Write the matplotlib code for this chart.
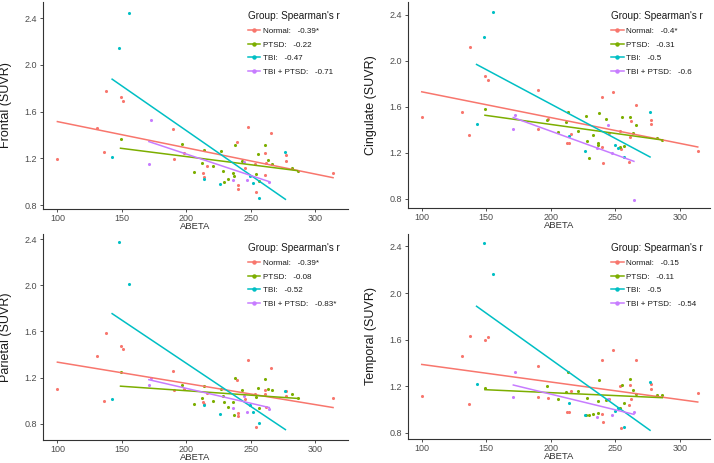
import matplotlib
matplotlib.use('Agg')
import matplotlib.pyplot as plt
from matplotlib.lines import Line2D

plt.rcParams['font.family'] = ['Liberation Sans', 'DejaVu Sans']

groups = ['Normal', 'PTSD', 'TBI', 'TBI + PTSD']
colors = ['#F8766D', '#7CAE00', '#00BFC4', '#C77CFF']
regions = ['Frontal', 'Cingulate', 'Parietal', 'Temporal']

# ABETA per subject, by group
normal_x = [100, 131, 136.5, 137.5, 149, 151, 190, 190.5, 198, 213, 214, 216, 239.5, 240, 240.5,
            245.5, 248, 253.5, 254.5, 261, 261.5, 262, 266, 277.5, 277.5, 314]
ptsd_x = [149, 197, 206, 212, 213.5, 221, 227, 228.5, 229.5, 232.5, 236.5, 237, 237.5, 243, 254,
          255.5, 256.5, 261.5, 263.5, 266.5, 282.5, 286.5]
tbi_x = [142.5, 148, 155.5, 214, 226.5, 249.5, 252, 256.5, 277]
combo_x = [171, 172.5, 236, 244.5, 247.5, 264.5]

# SUVR per region
normal_y = {
    'Frontal': [1.19, 1.455, 1.257, 1.78, 1.726, 1.686, 1.452, 1.198, 1.246, 1.073, 1.043, 1.13, 1.339,
                0.972, 0.938, 1.113, 1.466, 1.155, 0.91, 1.06, 1.248, 1.158, 1.42, 1.232, 1.181, 1.071],
    'Cingulate': [1.516, 1.559, 1.353, 2.12, 1.865, 1.836, 1.748, 1.408, 1.495, 1.286, 1.283, 1.361, 1.684,
                  1.254, 1.108, 1.373, 1.728, 1.388, 1.23, 1.117, 1.338, 1.475, 1.612, 1.487, 1.452, 1.216],
    'Parietal': [1.099, 1.384, 0.997, 1.584, 1.478, 1.449, 1.258, 1.09, 1.1, 0.985, 0.973, 1.07, 1.179,
                 0.897, 0.87, 1.014, 1.349, 1.058, 0.77, 1.091, 1.06, 0.95, 1.287, 1.086, 1.04, 1.023],
    'Temporal': [1.117, 1.457, 1.043, 1.629, 1.6, 1.62, 1.37, 1.11, 1.095, 0.975, 0.978, 1.158, 1.42,
                 0.963, 0.887, 1.086, 1.506, 1.197, 0.843, 1.04, 1.209, 1.09, 1.42, 1.217, 1.172, 1.138],
}
ptsd_y = {
    'Frontal': [1.362, 1.319, 1.082, 1.158, 1.27, 1.137, 1.263, 1.092, 0.994, 1.02, 1.071, 1.05, 1.316,
                1.175, 1.068, 1.237, 1.005, 1.315, 1.187, 1.153, 1.117, 1.092],
    'Cingulate': [1.583, 1.487, 1.382, 1.464, 1.553, 1.388, 1.519, 1.306, 1.158, 1.356, 1.282, 1.271, 1.545,
                  1.492, 1.25, 1.51, 1.263, 1.51, 1.37, 1.442, 1.33, 1.312],
    'Parietal': [1.249, 1.137, 0.97, 1.026, 1.129, 0.994, 1.10, 1.043, 0.985, 0.946, 0.985, 0.876, 1.193,
                 1.093, 1.029, 1.111, 0.935, 1.184, 1.105, 1.093, 1.058, 1.023],
    'Temporal': [1.18, 1.198, 1.09, 1.146, 1.32, 1.157, 0.95, 1.097, 0.952, 0.96, 1.074, 0.966, 1.252,
                 1.078, 1.01, 1.211, 1.058, 1.258, 1.169, 1.128, 1.121, 1.127],
}
tbi_y = {
    'Frontal': [1.215, 2.14, 2.44, 1.026, 0.978, 1.05, 0.99, 0.858, 1.256],
    'Cingulate': [1.449, 2.208, 2.426, 1.344, 1.219, 1.271, 1.238, 1.16, 1.559],
    'Parietal': [1.017, 2.37, 2.01, 0.961, 0.888, 0.96, 0.906, 0.803, 1.087],
    'Temporal': [1.22, 2.43, 2.163, 1.055, 0.955, 0.983, 1.01, 0.849, 1.235],
}
combo_y = {
    'Frontal': [1.153, 1.53, 1.012, 1.167, 1.012, 1.0],
    'Cingulate': [1.408, 1.533, 1.245, 1.44, 1.2, 0.786],
    'Parietal': [1.135, 1.193, 0.941, 1.044, 0.906, 0.925],
    'Temporal': [1.105, 1.318, 0.93, 1.09, 0.955, 0.978],
}

# fitted line value at each group's lowest and highest ABETA
fit_ends = {
    'Frontal': [(1.514, 1.034), (1.286, 1.094), (1.877, 0.849), (1.343, 1.0)],
    'Cingulate': [(1.731, 1.251), (1.527, 1.312), (1.969, 1.164), (1.507, 1.126)],
    'Parietal': [(1.334, 0.941), (1.126, 1.02), (1.754, 0.75), (1.182, 0.941)],
    'Temporal': [(1.386, 1.063), (1.169, 1.1), (1.886, 0.82), (1.209, 0.957)],
}

spearman_r = {
    'Frontal': ['-0.39*', '-0.22', '-0.47', '-0.71'],
    'Cingulate': ['-0.4*', '-0.31', '-0.5', '-0.6'],
    'Parietal': ['-0.39*', '-0.08', '-0.52', '-0.83*'],
    'Temporal': ['-0.15', '-0.11', '-0.5', '-0.54'],
}

xs = [normal_x, ptsd_x, tbi_x, combo_x]
ys = [normal_y, ptsd_y, tbi_y, combo_y]

W, H = 714, 463
# pixel boxes: left, right, top, bottom
boxes = [(42.7, 348, 1.7, 209), (407.7, 710, 1.7, 208),
         (42.7, 348, 233.7, 440), (407.7, 710, 233.7, 439)]
xlims = [(88.6, 325.6), (89.1, 323.5), (88.6, 325.6), (89.1, 323.5)]
ylims = [(0.766, 2.54), (0.72, 2.515), (0.66, 2.446), (0.745, 2.51)]

fig = plt.figure(figsize=(W / 100, H / 100), dpi=100)

for i, reg in enumerate(regions):
    l, r, t, b = boxes[i]
    ax = fig.add_axes([l / W, 1 - b / H, (r - l) / W, (b - t) / H])

    for gx, gy, c in zip(xs, ys, colors):
        ax.scatter(gx, gy[reg], s=5, color=c, linewidths=0, zorder=2)
    for gx, ends, c in zip(xs, fit_ends[reg], colors):
        ax.plot([min(gx), max(gx)], ends, color=c, lw=1.1, zorder=3)

    ax.set_xlim(*xlims[i])
    ax.set_ylim(*ylims[i])
    ax.set_xticks([100, 150, 200, 250, 300])
    ax.set_yticks([0.8, 1.2, 1.6, 2.0, 2.4])
    ax.set_yticklabels(['0.8', '1.2', '1.6', '2.0', '2.4'])
    for s in ['top', 'right']:
        ax.spines[s].set_visible(False)
    for s in ['left', 'bottom']:
        ax.spines[s].set_color('#333333')
        ax.spines[s].set_linewidth(0.8)
    ax.tick_params(length=2, width=0.6, color='#333333', labelsize=6.5,
                   labelcolor='#4d4d4d', pad=2)
    ax.tick_params(axis='x', pad=1.5)
    ax.set_xlabel('ABETA', fontsize=6.8, color='#333333', labelpad=-0.5)
    ax.set_ylabel(reg + ' (SUVR)', fontsize=9, color='#1a1a1a', labelpad=9)

    handles = [Line2D([0], [0], color=c, lw=1.1, marker='o', markersize=2.2) for c in colors]
    labels = [g + ':   ' + v for g, v in zip(groups, spearman_r[reg])]
    leg = ax.legend(handles, labels, title="Group: Spearman's r", loc='upper left',
                    bbox_to_anchor=(0.65, 0.985), frameon=False, fontsize=5.8,
                    title_fontsize=7.2, handlelength=1.6, handletextpad=0.35,
                    labelspacing=0.75, alignment='left', borderpad=0.3)
    leg.get_title().set_color('#1a1a1a')
    for txt in leg.get_texts():
        txt.set_color('#1a1a1a')

fig.savefig('out.png', dpi=100)
